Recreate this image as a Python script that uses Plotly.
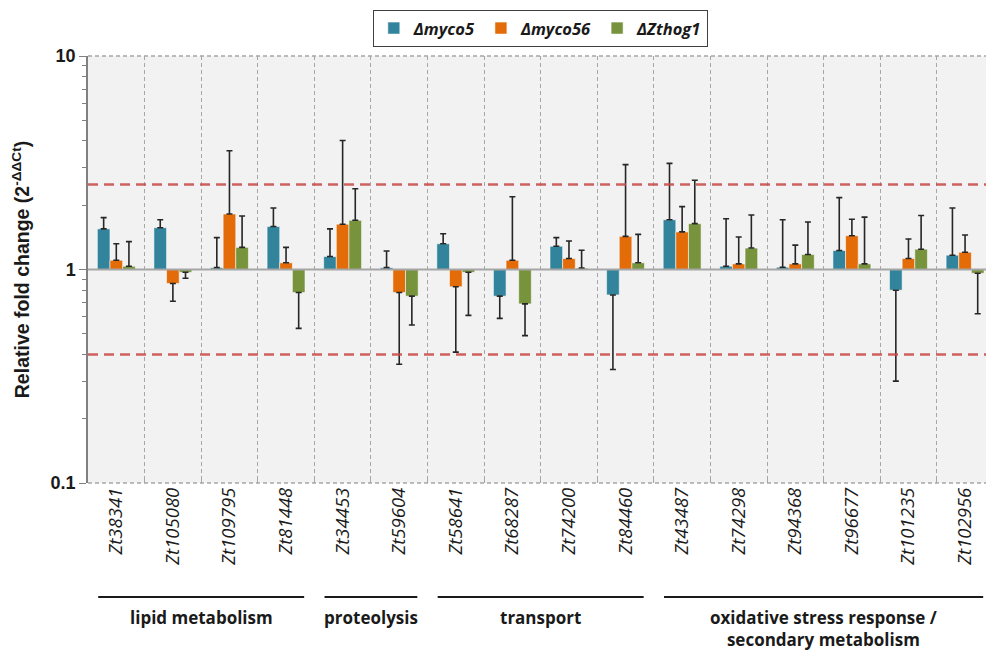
import plotly.graph_objects as go

# Genes (x categories) and their functional groups
genes = ["Zt38341", "Zt105080", "Zt109795", "Zt81448",
         "Zt34453", "Zt59604",
         "Zt58641", "Zt68287", "Zt74200", "Zt84460",
         "Zt43487", "Zt74298", "Zt94368", "Zt96677", "Zt101235", "Zt102956"]
group_names = ["lipid metabolism", "proteolysis", "transport",
               "oxidative stress response /<br>secondary metabolism"]
group_first = [0, 4, 6, 10]
group_last = [3, 5, 9, 15]

series_names = ["Δmyco5", "Δmyco56", "ΔZthog1"]
series_colors = ["#31849B", "#E36C09", "#77933C"]

# Relative fold change (2^-ΔΔCt) per strain
fold_myco5 = [1.55, 1.57, 1.02, 1.59, 1.15, 1.02, 1.32, 0.75, 1.285, 0.76,
              1.71, 1.036, 1.025, 1.227, 0.80, 1.167]
fold_myco56 = [1.105, 0.86, 1.82, 1.075, 1.63, 0.78, 0.83, 1.105, 1.126, 1.43,
               1.50, 1.063, 1.063, 1.44, 1.126, 1.205]
fold_zthog1 = [1.036, 0.97, 1.27, 0.78, 1.70, 0.75, 0.97, 0.69, 1.015, 1.075,
               1.64, 1.26, 1.176, 1.063, 1.245, 0.96]

# End of the one-sided error bar (away from 1) for each value
err_end_myco5 = [1.75, 1.71, 1.41, 1.94, 1.55, 1.22, 1.47, 0.59, 1.41, 0.34,
                 3.14, 1.73, 1.71, 2.17, 0.30, 1.94]
err_end_myco56 = [1.32, 0.71, 3.6, 1.27, 4.02, 0.36, 0.41, 2.19, 1.36, 3.10,
                  1.97, 1.42, 1.30, 1.72, 1.39, 1.45]
err_end_zthog1 = [1.35, 0.91, 1.78, 0.53, 2.39, 0.55, 0.61, 0.49, 1.23, 1.46,
                  2.62, 1.80, 1.67, 1.76, 1.79, 0.62]

# Reference level and the up/down regulation thresholds
reference_level = 1
thresholds = [2.5, 0.4]

fold_values = [fold_myco5, fold_myco56, fold_zthog1]
err_ends = [err_end_myco5, err_end_myco56, err_end_zthog1]

xpos = list(range(len(genes)))
fig = go.Figure()

for name, color, vals, ends in zip(series_names, series_colors, fold_values, err_ends):
    plus = [max(e - v, 0) if v >= reference_level else 0 for v, e in zip(vals, ends)]
    minus = [max(v - e, 0) if v < reference_level else 0 for v, e in zip(vals, ends)]
    fig.add_trace(go.Bar(
        x=xpos,
        y=[v - reference_level for v in vals],
        base=reference_level,
        name=f"<b><i>{name}</i></b>",
        marker=dict(color=color, line=dict(color="rgba(255,255,255,0.55)", width=1)),
        error_y=dict(type="data", symmetric=False, array=plus, arrayminus=minus,
                     color="#262626", thickness=1.6, width=3),
        hoverinfo="skip",
    ))

# Threshold lines
for t in thresholds:
    fig.add_hline(y=t, line=dict(color="rgba(200,70,70,0.85)", width=2.5, dash="10px,6px"),
                  layer="above")
# Baseline at fold change 1
fig.add_hline(y=reference_level, line=dict(color="#A6A6A6", width=2), layer="above")

# Dashed top and bottom frame of the plotting area
for yp in (0, 1):
    fig.add_shape(type="line", xref="paper", yref="paper", x0=0, x1=1, y0=yp, y1=yp,
                  line=dict(color="#A6A6A6", width=1.5, dash="4px,3px"), layer="above")

# Group brackets and labels under the gene names
for gname, g0, g1 in zip(group_names, group_first, group_last):
    fig.add_shape(type="line", xref="x", yref="paper",
                  x0=g0 - 0.32, x1=g1 + 0.32, y0=-0.267, y1=-0.267,
                  line=dict(color="#1a1a1a", width=2))
    fig.add_annotation(x=(g0 + g1) / 2, xref="x", y=-0.283, yref="paper",
                       text=f"<b>{gname}</b>", showarrow=False, yanchor="top",
                       font=dict(family="Open Sans", size=17, color="#1a1a1a"))

boundaries = [i + 0.5 for i in range(len(genes) - 1)]

fig.update_layout(
    width=986, height=657,
    margin=dict(l=88, r=0, t=56, b=174),
    paper_bgcolor="white",
    plot_bgcolor="#F2F2F2",
    barmode="group",
    bargap=0.33,
    bargroupgap=0,
    showlegend=True,
    legend=dict(orientation="h", x=0.548, y=0.985, xanchor="center", yanchor="top",
                xref="container", yref="container",
                bordercolor="#404040", borderwidth=1, bgcolor="white",
                font=dict(family="Open Sans", size=16.5, color="#1a1a1a"),
                itemwidth=30, tracegroupgap=0),
    xaxis=dict(
        range=[-0.5, 15.37],
        tickmode="array", tickvals=xpos, ticktext=[f"<i>{g}</i>" for g in genes],
        tickangle=-90, ticks="", showgrid=False, zeroline=False, showline=False,
        tickfont=dict(family="Open Sans", size=18.5, color="#1a1a1a"),
        minor=dict(tickmode="array", tickvals=boundaries, ticks="inside", ticklen=4,
                   tickcolor="#A6A6A6", showgrid=True, gridcolor="#A6A6A6",
                   griddash="4px,3px", gridwidth=1),
    ),
    yaxis=dict(
        type="log", range=[-1, 1],
        tickmode="array", tickvals=[0.1, 1, 10], ticktext=["<b>0.1</b>", "<b>1</b>", "<b>10</b>"],
        ticks="outside", ticklen=7, tickcolor="#808080",
        showline=True, linecolor="#808080", linewidth=1.5,
        showgrid=False, zeroline=False,
        tickfont=dict(family="Arial", size=18, color="#1a1a1a"),
        minor=dict(tickmode="array",
                   tickvals=[0.2, 0.3, 0.4, 0.5, 0.6, 0.7, 0.8, 0.9, 2, 3, 4, 5, 6, 7, 8, 9],
                   ticks="outside", ticklen=4, tickcolor="#808080", showgrid=False),
        title=dict(text="<b>Relative fold change (2<sup>-ΔΔCt</sup>)</b>",
                   font=dict(family="Arial", size=19.5, color="#1a1a1a"), standoff=16),
    ),
)

fig.write_html("out.html")
